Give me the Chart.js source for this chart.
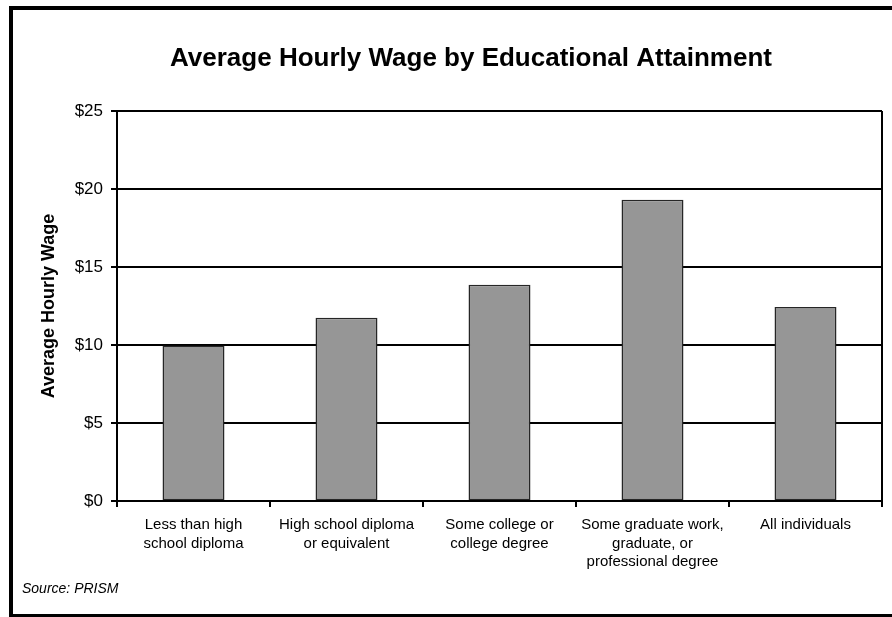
<!DOCTYPE html>
<html>
<head>
<meta charset="utf-8">
<script src="https://cdn.jsdelivr.net/npm/chart.js@4/dist/chart.umd.min.js"></script>
<style>
  html, body { margin: 0; padding: 0; background: #fff; overflow: hidden; }
  #frame { position: absolute; left: 9px; top: 6px; width: 1000px; height: 612px; box-sizing: border-box; border: 4px solid #000; }
  #wrap { position: absolute; left: 0; top: 0; width: 892px; height: 617px; }
</style>
</head>
<body>
<div id="frame"></div>
<div id="wrap"><canvas id="c"></canvas></div>
<script>
const chartTitle = "Average Hourly Wage by Educational Attainment";
const yAxisTitle = "Average Hourly Wage";
const sourceNote = "Source: PRISM";
const categories = [
  ["Less than high", "school diploma"],
  ["High school diploma", "or equivalent"],
  ["Some college or", "college degree"],
  ["Some graduate work,", "graduate, or", "professional degree"],
  ["All individuals"]
];
const wages = [9.97, 11.75, 13.86, 19.31, 12.43];
const yMin = 0, yMax = 25, yStep = 5;

const FONT = "'Liberation Sans', Arial, Helvetica, sans-serif";

const textPlugin = {
  id: 'textPlugin',
  afterDraw(chart) {
    const ctx = chart.ctx;
    ctx.save();
    ctx.fillStyle = '#000';
    ctx.font = "bold 26px " + FONT;
    ctx.textAlign = 'center';
    ctx.textBaseline = 'middle';
    ctx.fillText(chartTitle, 471, 59);
    ctx.font = "italic 14px " + FONT;
    ctx.textAlign = 'left';
    ctx.fillText(sourceNote, 22, 589);
    ctx.restore();
  }
};

new Chart(document.getElementById('c'), {
  type: 'bar',
  data: {
    labels: categories,
    datasets: [{
      data: wages,
      backgroundColor: '#969696',
      borderColor: '#262626',
      borderWidth: 1.5,
      borderSkipped: false,
      categoryPercentage: 1.0,
      barPercentage: 0.405
    }]
  },
  options: {
    responsive: true,
    maintainAspectRatio: false,
    animation: false,
    devicePixelRatio: 1,
    layout: { padding: { top: 111, right: 10, left: 0, bottom: 0 } },
    plugins: { legend: { display: false }, title: { display: false }, tooltip: { enabled: false } },
    scales: {
      x: {
        offset: true,
        afterFit(scale) { scale.height = 116; },
        grid: {
          offset: true,
          drawOnChartArea: true,
          drawTicks: true,
          tickLength: 6,
          lineWidth: 2,
          color: (c) => (c.type !== 'tick' ? '#000' : 'rgba(0,0,0,0)'),
          tickColor: '#000'
        },
        border: { display: true, color: '#000', width: 2 },
        ticks: {
          color: '#000',
          padding: 9,
          maxRotation: 0,
          autoSkip: false,
          font: { family: FONT, size: 15, lineHeight: 1.23 }
        }
      },
      y: {
        min: yMin,
        max: yMax,
        afterFit(scale) { scale.width = 117; },
        grid: { color: '#000', lineWidth: 2, tickLength: 6, tickColor: '#000' },
        border: { display: true, color: '#000', width: 2 },
        ticks: {
          stepSize: yStep,
          color: '#000',
          padding: 8,
          font: { family: FONT, size: 17 },
          callback: (v) => '$' + v
        },
        title: {
          display: true,
          text: yAxisTitle,
          color: '#000',
          font: { family: FONT, size: 18, weight: 'bold' },
          padding: { top: 38, bottom: 0 }
        }
      }
    }
  },
  plugins: [textPlugin]
});
</script>
</body>
</html>
